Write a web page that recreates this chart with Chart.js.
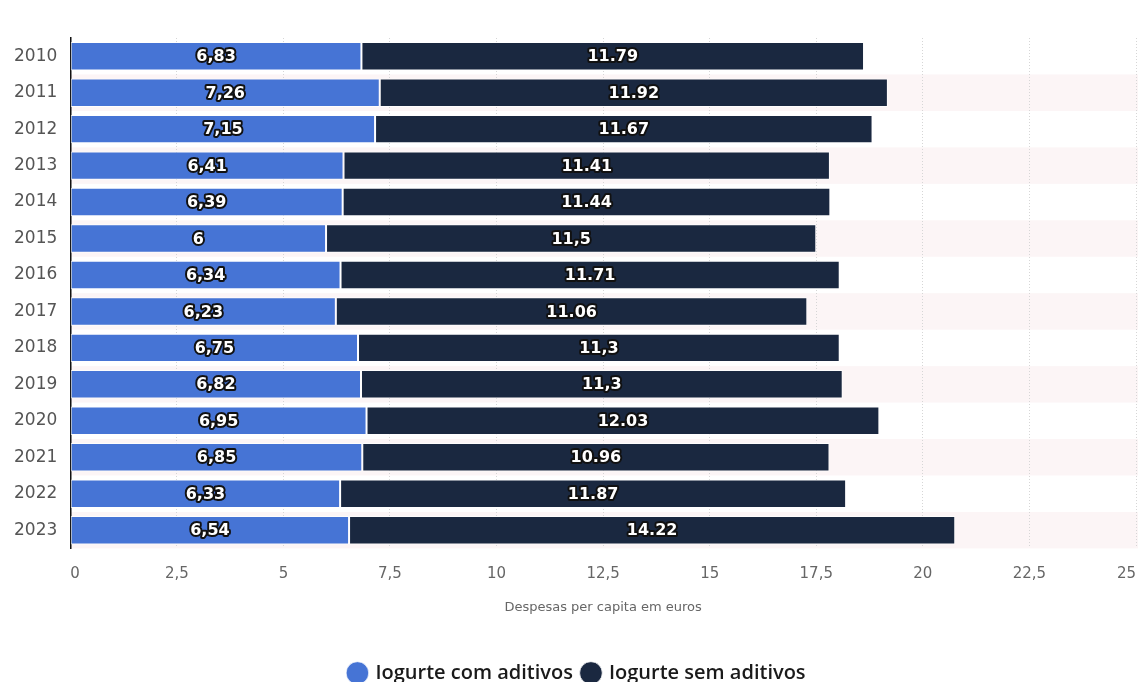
<!DOCTYPE html>
<html>
<head>
<meta charset="utf-8">
<script src="https://cdn.jsdelivr.net/npm/chart.js@4.4.0/dist/chart.umd.min.js"></script>
<style>
  body { margin: 0; background: #fff; overflow: hidden; }
  #wrap { width: 1154px; height: 693px; }
</style>
</head>
<body>
<div id="wrap"><canvas id="grafico" width="1154" height="693"></canvas></div>
<script>
// dados
const anos = ['2010', '2011', '2012', '2013', '2014', '2015', '2016', '2017', '2018', '2019', '2020', '2021', '2022', '2023'];
const comAditivos = [6.83, 7.26, 7.15, 6.41, 6.39, 6, 6.34, 6.23, 6.75, 6.82, 6.95, 6.85, 6.33, 6.54];
const semAditivos = [11.79, 11.92, 11.67, 11.41, 11.44, 11.5, 11.71, 11.06, 11.3, 11.3, 12.03, 10.96, 11.87, 14.22];
// rótulos como aparecem no gráfico
const rotulosCom = ['6,83', '7,26', '7,15', '6,41', '6,39', '6', '6,34', '6,23', '6,75', '6,82', '6,95', '6,85', '6,33', '6,54'];
const rotulosSem = ['11.79', '11.92', '11.67', '11.41', '11.44', '11,5', '11.71', '11.06', '11,3', '11,3', '12.03', '10.96', '11.87', '14.22'];
const ticksX = ['0', '2,5', '5', '7,5', '10', '12,5', '15', '17,5', '20', '22,5', '25'];

const fonte = '"DejaVu Sans", sans-serif';

// faixas alternadas no fundo
const faixas = {
    id: 'faixas',
    beforeDraw(chart) {
        const ctx = chart.ctx;
        const area = chart.chartArea;
        const passo = (area.bottom - area.top) / anos.length;
        ctx.save();
        ctx.fillStyle = '#fcf5f6';
        for (let i = 1; i < anos.length; i += 2) {
            ctx.fillRect(area.left, area.top + i * passo, 1138 - area.left, passo);
        }
        ctx.restore();
    }
};

// rótulos dentro das barras
const rotulos = {
    id: 'rotulos',
    afterDatasetsDraw(chart) {
        const ctx = chart.ctx;
        const textos = [rotulosCom, rotulosSem];
        ctx.save();
        ctx.font = 'bold 16px ' + fonte;
        ctx.textAlign = 'center';
        ctx.textBaseline = 'middle';
        ctx.lineJoin = 'round';
        chart.data.datasets.forEach((ds, d) => {
            chart.getDatasetMeta(d).data.forEach((bar, i) => {
                const p = bar.getCenterPoint();
                ctx.lineWidth = 4;
                ctx.strokeStyle = '#111';
                ctx.strokeText(textos[d][i], p.x, p.y + 1);
                ctx.fillStyle = '#fff';
                ctx.fillText(textos[d][i], p.x, p.y + 1);
            });
        });
        ctx.restore();
    }
};

new Chart(document.getElementById('grafico'), {
    type: 'bar',
    data: {
        labels: anos,
        datasets: [
            {
                label: 'Iogurte com aditivos',
                data: comAditivos,
                backgroundColor: '#4674d5',
                borderColor: 'rgba(255,255,255,0.75)',
                borderWidth: 1,
                borderSkipped: false
            },
            {
                label: 'Iogurte sem aditivos',
                data: semAditivos,
                backgroundColor: '#1a2840',
                borderColor: 'rgba(255,255,255,0.75)',
                borderWidth: 1,
                borderSkipped: false
            }
        ]
    },
    options: {
        indexAxis: 'y',
        responsive: false,
        animation: false,
        barPercentage: 0.78,
        categoryPercentage: 1,
        layout: { padding: { top: 38, right: 0, left: 1, bottom: 0 } },
        scales: {
            x: {
                stacked: true,
                min: 0,
                max: 25,
                ticks: {
                    stepSize: 2.5,
                    align: 'inner',
                    color: '#666',
                    font: { family: fonte, size: 15, lineHeight: 1 },
                    padding: 18,
                    callback: (v, i) => ticksX[i]
                },
                grid: {
                    drawTicks: false,
                    color: '#d6d6d6',
                    lineWidth: 1
                },
                border: { display: false, dash: [1, 2] },
                title: {
                    display: true,
                    text: 'Despesas per capita em euros',
                    color: '#666',
                    font: { family: fonte, size: 13 },
                    padding: { top: 0, bottom: 38 }
                }
            },
            y: {
                stacked: true,
                ticks: {
                    color: '#555',
                    font: { family: fonte, size: 17 },
                    padding: 13
                },
                grid: { display: false, drawTicks: false },
                border: { display: true, color: '#111', width: 1.5 }
            }
        },
        plugins: {
            legend: {
                position: 'bottom',
                labels: {
                    usePointStyle: true,
                    pointStyle: 'circle',
                    boxWidth: 16,
                    boxHeight: 16,
                    padding: 10,
                    color: '#1a1a1a',
                    font: { family: '"Open Sans", sans-serif', size: 20, weight: '600' }
                }
            },
            tooltip: { enabled: false }
        }
    },
    plugins: [faixas, rotulos]
});
</script>
</body>
</html>
